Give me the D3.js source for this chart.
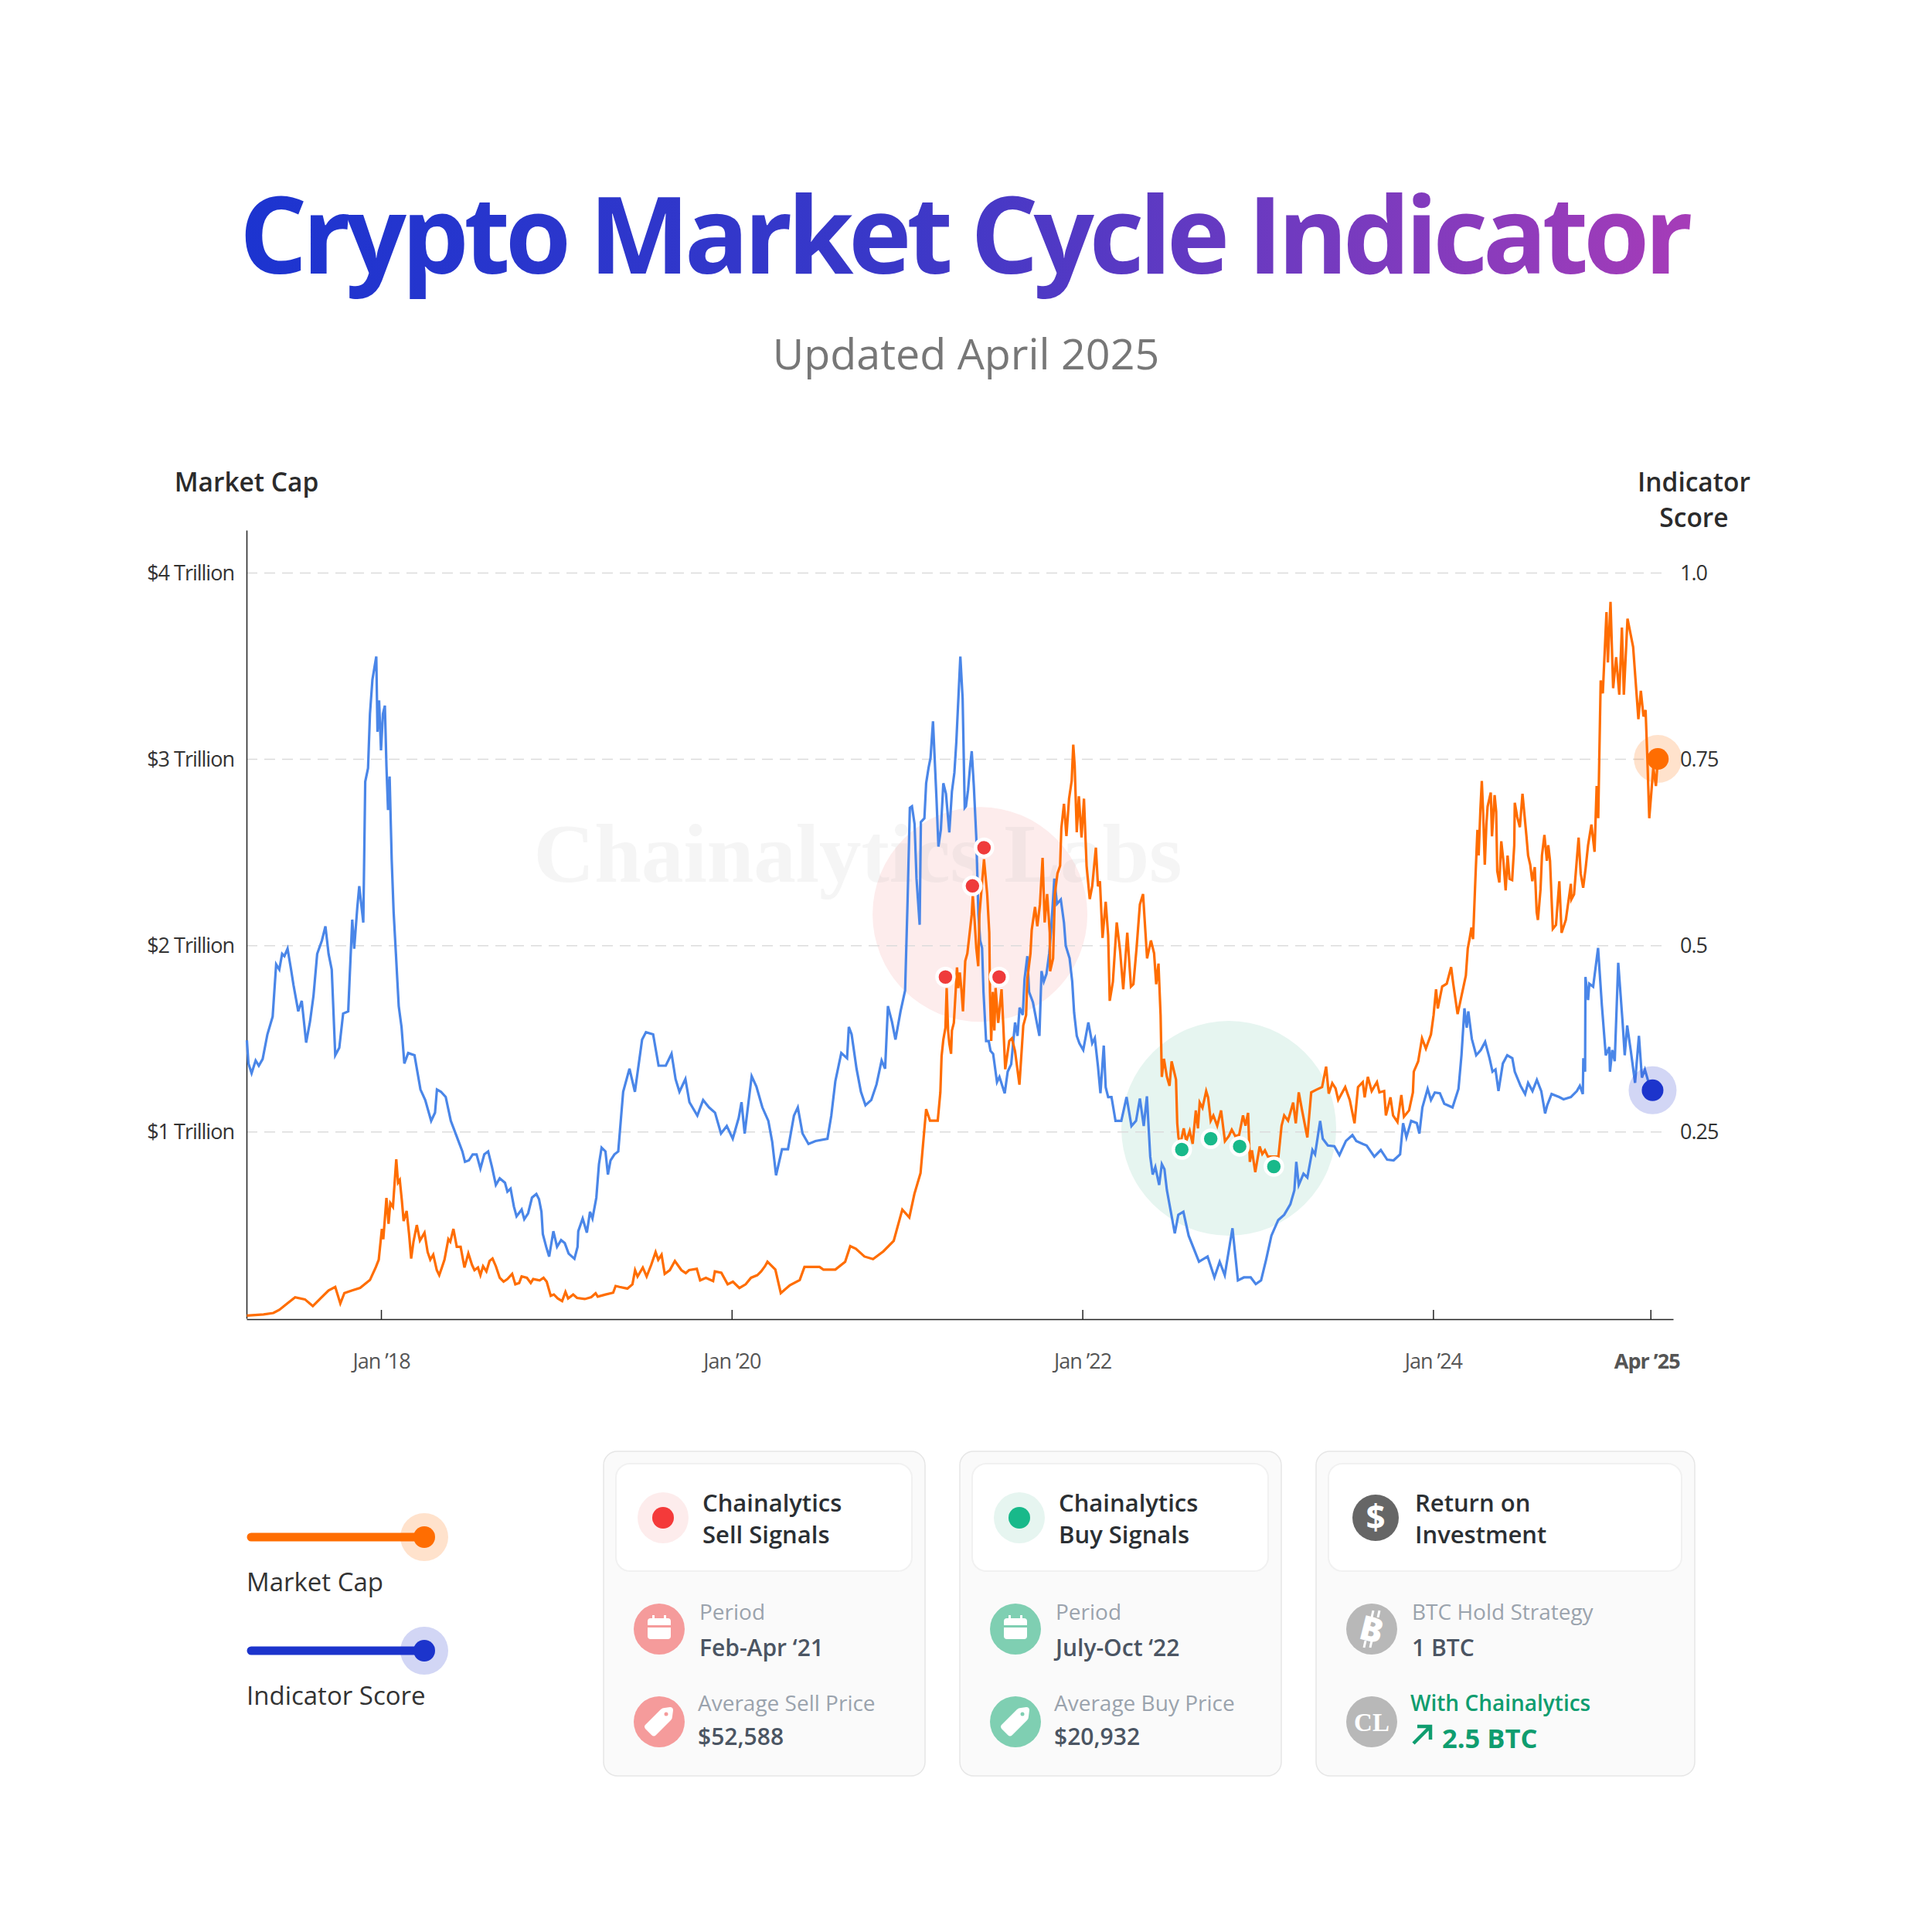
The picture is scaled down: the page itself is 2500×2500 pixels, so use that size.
<!DOCTYPE html>
<html>
<head>
<meta charset="utf-8">
<script src="https://cdn.jsdelivr.net/npm/d3@7"></script>
<style>
  body { margin: 0; background: #fff; }
  text { font-family: "Open Sans", sans-serif; }
</style>
</head>
<body>
<div id="chart"></div>
<script>
// Indicator score, [decimal year, score 0-1]
const indicatorScore = [
[2017.235,.373],[2017.244,.342],[2017.262,.329],[2017.285,.346],[2017.303,.339],[2017.325,.348],[2017.352,.381],[2017.382,.405],[2017.402,.475],[2017.420,.468],
[2017.436,.489],[2017.449,.486],[2017.467,.496],[2017.487,.468],[2017.501,.447],[2017.528,.412],[2017.548,.426],[2017.573,.370],[2017.595,.398],[2017.615,.433],
[2017.636,.489],[2017.663,.507],[2017.683,.526],[2017.701,.489],[2017.719,.468],[2017.739,.353],[2017.762,.363],[2017.784,.409],[2017.813,.412],[2017.822,.461],
[2017.836,.535],[2017.847,.496],[2017.865,.552],[2017.876,.580],[2017.899,.531],[2017.910,.720],[2017.926,.738],[2017.937,.811],[2017.951,.857],[2017.973,.888],
[2017.980,.787],[2017.989,.829],[2018.000,.762],[2018.011,.811],[2018.022,.822],[2018.031,.741],[2018.040,.682],[2018.049,.727],[2018.061,.615],[2018.072,.545],
[2018.085,.489],[2018.101,.419],[2018.117,.391],[2018.133,.342],[2018.155,.356],[2018.191,.353],[2018.225,.307],[2018.252,.293],[2018.286,.265],[2018.308,.276],
[2018.319,.307],[2018.342,.304],[2018.369,.297],[2018.398,.265],[2018.443,.237],[2018.464,.224],[2018.479,.210],[2018.501,.212],[2018.523,.220],[2018.545,.220],
[2018.567,.201],[2018.589,.220],[2018.611,.224],[2018.633,.203],[2018.655,.179],[2018.677,.188],[2018.707,.182],[2018.721,.170],[2018.739,.174],[2018.758,.150],
[2018.773,.137],[2018.802,.146],[2018.817,.133],[2018.839,.141],[2018.861,.162],[2018.886,.167],[2018.901,.160],[2018.915,.143],[2018.923,.113],[2018.942,.096],
[2018.959,.083],[2018.983,.117],[2019.004,.096],[2019.027,.105],[2019.048,.101],[2019.070,.087],[2019.103,.080],[2019.121,.096],[2019.125,.117],[2019.150,.134],
[2019.174,.115],[2019.192,.143],[2019.206,.134],[2019.228,.162],[2019.243,.207],[2019.258,.229],[2019.280,.224],[2019.294,.193],[2019.309,.212],[2019.331,.220],
[2019.353,.224],[2019.381,.304],[2019.417,.335],[2019.448,.304],[2019.489,.374],[2019.511,.384],[2019.552,.381],
[2019.583,.339],[2019.624,.339],[2019.657,.355],[2019.680,.321],[2019.702,.304],[2019.736,.321],[2019.759,.290],[2019.804,.272],[2019.837,.293],[2019.871,.283],
[2019.905,.276],[2019.939,.248],[2019.972,.258],[2020.006,.241],[2020.040,.269],[2020.056,.290],[2020.074,.248],[2020.114,.325],[2020.141,.311],[2020.175,.283],
[2020.209,.265],[2020.231,.237],[2020.253,.192],[2020.287,.227],[2020.321,.227],[2020.355,.272],[2020.377,.283],[2020.404,.248],[2020.438,.234],[2020.478,.238],
[2020.546,.241],[2020.568,.272],[2020.591,.318],[2020.625,.356],[2020.658,.349],[2020.668,.391],[2020.684,.381],[2020.712,.335],[2020.737,.304],[2020.763,.286],
[2020.796,.293],[2020.826,.314],[2020.855,.346],[2020.875,.335],[2020.891,.419],[2020.914,.398],[2020.934,.374],[2020.963,.412],[2020.989,.440],[2021.003,.559],
[2021.016,.685],[2021.028,.687],[2021.043,.663],[2021.054,.590],[2021.072,.528],[2021.079,.666],[2021.099,.671],[2021.109,.718],[2021.123,.739],[2021.134,.752],
[2021.148,.801],[2021.168,.697],[2021.179,.633],[2021.193,.656],[2021.207,.718],[2021.222,.704],[2021.241,.652],[2021.256,.707],[2021.270,.732],[2021.281,.773],
[2021.304,.888],[2021.317,.832],[2021.329,.685],[2021.336,.687],[2021.348,.709],[2021.359,.739],[2021.369,.761],[2021.381,.714],[2021.395,.645],[2021.407,.542],
[2021.417,.507],[2021.428,.497],[2021.436,.438],[2021.451,.372],[2021.466,.372],[2021.476,.359],[2021.491,.355],[2021.513,.317],[2021.527,.324],[2021.557,.302],
[2021.574,.331],[2021.594,.341],[2021.616,.397],[2021.630,.379],[2021.642,.417],[2021.660,.407],[2021.670,.455],[2021.686,.486],[2021.696,.438],[2021.718,.424],
[2021.740,.397],[2021.755,.379],[2021.767,.466],[2021.780,.452],[2021.795,.462],[2021.811,.490],[2021.821,.518],[2021.840,.590],[2021.855,.556],[2021.877,.562],
[2021.895,.531],[2021.905,.500],[2021.927,.483],[2021.942,.452],[2021.953,.410],[2021.968,.379],[2021.983,.369],[2022.005,.360],[2022.034,.397],[2022.056,.369],
[2022.071,.376],[2022.089,.338],[2022.103,.302],[2022.122,.366],[2022.133,.310],[2022.147,.297],[2022.166,.297],[2022.189,.265],[2022.222,.265],[2022.252,.297],
[2022.280,.258],[2022.306,.265],[2022.328,.295],[2022.350,.258],[2022.368,.298],[2022.387,.217],[2022.401,.193],[2022.416,.203],[2022.438,.179],[2022.453,.207],
[2022.468,.200],[2022.482,.172],[2022.527,.114],[2022.547,.139],[2022.576,.143],[2022.606,.111],[2022.665,.076],[2022.714,.083],[2022.753,.055],[2022.783,.076],
[2022.812,.058],[2022.856,.121],[2022.887,.051],[2022.921,.055],[2022.960,.055],[2022.989,.046],[2023.019,.051],[2023.048,.079],[2023.078,.111],[2023.117,.132],
[2023.151,.139],[2023.186,.153],[2023.209,.172],[2023.220,.210],[2023.234,.179],[2023.261,.194],[2023.283,.189],[2023.312,.226],[2023.327,.220],[2023.356,.265],
[2023.371,.241],[2023.400,.232],[2023.437,.231],[2023.466,.219],[2023.503,.238],[2023.540,.246],[2023.562,.238],[2023.599,.234],[2023.621,.232],[2023.665,.217],
[2023.702,.226],[2023.738,.213],[2023.775,.212],[2023.812,.220],[2023.829,.262],[2023.848,.243],[2023.875,.265],[2023.907,.262],[2023.922,.248],[2023.939,.283],
[2023.969,.308],[2023.988,.293],[2024.010,.303],[2024.039,.302],[2024.064,.288],[2024.111,.283],[2024.145,.308],[2024.162,.353],[2024.179,.416],[2024.192,.390],
[2024.201,.412],[2024.221,.375],[2024.246,.353],[2024.272,.360],[2024.297,.371],[2024.322,.349],[2024.339,.331],[2024.356,.334],[2024.373,.305],[2024.398,.342],
[2024.423,.353],[2024.452,.349],[2024.466,.331],[2024.499,.312],[2024.525,.301],[2024.542,.316],[2024.567,.305],[2024.592,.320],[2024.617,.305],[2024.639,.275],
[2024.651,.286],[2024.676,.301],[2024.719,.297],[2024.744,.294],[2024.786,.297],[2024.820,.305],[2024.837,.312],[2024.854,.301],[2024.857,.349],[2024.867,.331],
[2024.869,.458],[2024.884,.427],[2024.891,.449],[2024.913,.445],[2024.941,.497],[2024.963,.419],[2024.985,.353],[2025.005,.364],[2025.009,.331],[2025.022,.360],
[2025.036,.345],[2025.056,.477],[2025.081,.397],[2025.093,.353],[2025.107,.393],[2025.127,.360],[2025.152,.316],[2025.174,.379],[2025.191,.323],[2025.208,.334],
[2025.225,.320],[2025.252,.306]
];

// Market cap, [decimal year, $ billions]
const marketCap = [
[2017.235,15],[2017.330,21],[2017.386,29],[2017.420,46],[2017.465,80],[2017.510,113],[2017.566,102],[2017.611,66],[2017.656,108],[2017.701,150],
[2017.739,169],[2017.768,80],[2017.791,136],[2017.836,150],[2017.881,164],[2017.937,206],[2017.971,276],[2017.987,315],[2018.005,480],[2018.013,425],
[2018.031,646],[2018.043,508],[2018.053,619],[2018.068,598],[2018.087,854],[2018.097,729],[2018.107,743],[2018.119,632],[2018.129,522],[2018.146,577],
[2018.160,453],[2018.172,321],[2018.185,411],[2018.204,501],[2018.222,418],[2018.248,460],[2018.266,356],[2018.281,315],[2018.298,342],[2018.318,259],
[2018.332,232],[2018.347,273],[2018.362,315],[2018.384,425],[2018.395,411],[2018.413,480],[2018.432,384],[2018.454,384],[2018.476,273],[2018.498,349],
[2018.519,287],[2018.533,259],[2018.553,273],[2018.567,232],[2018.582,280],[2018.601,252],[2018.619,308],[2018.636,321],[2018.655,280],[2018.677,218],
[2018.699,197],[2018.721,211],[2018.748,239],[2018.766,183],[2018.788,190],[2018.802,225],[2018.832,218],[2018.854,190],[2018.868,211],[2018.905,204],
[2018.927,218],[2018.945,197],[2018.968,121],[2018.986,128],[2019.008,107],[2019.033,93],[2019.052,142],[2019.067,107],[2019.096,128],[2019.118,110],
[2019.162,104],[2019.199,114],[2019.224,135],[2019.236,117],[2019.280,128],[2019.324,138],[2019.338,174],[2019.360,169],[2019.405,160],[2019.434,183],
[2019.449,259],[2019.463,225],[2019.493,273],[2019.515,225],[2019.541,287],[2019.566,356],[2019.581,315],[2019.600,342],[2019.618,239],[2019.647,259],
[2019.676,308],[2019.713,259],[2019.738,243],[2019.757,259],[2019.801,266],[2019.820,204],[2019.853,218],[2019.894,200],[2019.904,252],[2019.941,245],
[2019.977,183],[2020.007,197],[2020.044,163],[2020.080,183],[2020.110,218],[2020.146,232],[2020.168,252],[2020.190,280],[2020.204,304],[2020.249,262],
[2020.280,136],[2020.332,178],[2020.388,206],[2020.415,276],[2020.501,276],[2020.523,262],
[2020.591,262],[2020.647,304],[2020.676,388],[2020.708,374],[2020.757,332],[2020.806,318],[2020.865,360],[2020.924,416],[2020.973,584],[2021.013,542],
[2021.042,668],[2021.077,780],[2021.109,1123],[2021.131,1061],[2021.175,1061],[2021.190,1213],[2021.197,1407],[2021.207,1496],[2021.219,1559],[2021.226,1773],
[2021.234,1545],[2021.241,1476],[2021.251,1420],[2021.256,1545],[2021.267,1586],[2021.278,1766],[2021.285,1883],[2021.292,1773],[2021.301,1856],[2021.310,1766],
[2021.319,1648],[2021.332,1918],[2021.344,1959],[2021.354,2042],[2021.369,2167],[2021.375,2270],[2021.385,2139],[2021.395,1987],[2021.406,1890],[2021.413,2167],
[2021.425,2305],[2021.439,2464],[2021.457,2277],[2021.469,2070],[2021.473,1752],[2021.480,1489],[2021.489,1752],[2021.498,1545],[2021.505,1773],[2021.520,1586],
[2021.539,1766],[2021.549,1572],[2021.560,1337],[2021.583,1489],[2021.598,1503],[2021.616,1434],[2021.641,1254],[2021.663,1572],[2021.679,1628],[2021.686,1821],
[2021.704,1959],[2021.711,2084],[2021.730,2208],[2021.743,2104],[2021.758,2222],[2021.773,2471],[2021.785,2125],[2021.799,2277],[2021.814,2070],[2021.816,1863],
[2021.833,1932],[2021.843,2277],[2021.858,2388],[2021.873,2429],[2021.880,2630],[2021.895,2761],[2021.909,2588],[2021.924,2789],[2021.939,2885],[2021.948,3079],
[2021.956,2968],[2021.968,2609],[2021.980,2802],[2021.995,2581],[2022.009,2789],[2022.024,2429],[2022.042,2250],[2022.056,2319],[2022.077,2526],[2022.089,2319],
[2022.100,2346],[2022.115,2042],[2022.133,2236],[2022.147,2056],[2022.156,1704],[2022.174,1807],[2022.196,2125],[2022.215,1973],[2022.233,1766],[2022.256,2070],
[2022.277,1780],[2022.291,1793],[2022.309,1987],[2022.328,2222],[2022.346,2277],[2022.357,2111],[2022.369,1932],[2022.391,2028],[2022.409,1959],[2022.421,1793],
[2022.434,1904],[2022.446,1628],[2022.453,1296],[2022.465,1393],[2022.482,1296],[2022.497,1248],[2022.509,1379],[2022.523,1324],[2022.534,1282],[2022.541,1047],
[2022.548,971],[2022.559,937],[2022.578,1020],[2022.592,951],[2022.612,1006],[2022.629,937],[2022.647,1116],[2022.659,1020],[2022.669,1158],[2022.685,1130],
[2022.706,1220],[2022.717,1186],[2022.732,1061],[2022.747,1089],[2022.769,1034],[2022.791,1116],[2022.813,951],[2022.835,978],[2022.852,1013],[2022.872,978],
[2022.894,985],[2022.916,1089],[2022.930,1034],[2022.945,1103],[2022.955,840],[2022.967,902],[2022.986,785],[2023.011,923],[2023.026,882],[2023.041,902],
[2023.058,868],[2023.118,868],[2023.136,1034],[2023.151,1089],[2023.173,1061],[2023.202,1158],[2023.217,1047],[2023.234,1213],[2023.253,1116],[2023.283,971],
[2023.305,1213],[2023.334,1227],[2023.367,1241],[2023.390,1351],[2023.405,1206],[2023.425,1262],[2023.444,1234],[2023.459,1172],[2023.499,1241],[2023.525,1172],
[2023.552,1047],[2023.572,1241],[2023.599,1268],[2023.610,1186],[2023.628,1296],[2023.650,1220],[2023.680,1268],[2023.694,1213],[2023.721,1220],[2023.731,1089],
[2023.757,1186],[2023.772,1089],[2023.797,1054],[2023.819,1199],[2023.834,1082],[2023.863,1116],[2023.885,1213],[2023.890,1324],[2023.915,1379],[2023.937,1503],
[2023.959,1448],[2023.988,1524],[2024.003,1628],[2024.017,1766],[2024.027,1663],[2024.052,1781],[2024.078,1796],[2024.103,1885],[2024.115,1796],[2024.140,1633],
[2024.187,1840],[2024.198,1986],[2024.209,2041],[2024.219,2097],[2024.228,2035],[2024.242,2373],[2024.253,2622],[2024.260,2484],[2024.270,2733],[2024.278,2884],
[2024.286,2705],[2024.295,2435],[2024.304,2650],[2024.311,2746],[2024.329,2822],[2024.336,2587],[2024.351,2808],[2024.360,2719],[2024.366,2401],[2024.378,2339],
[2024.389,2560],[2024.401,2456],[2024.414,2297],[2024.425,2484],[2024.436,2359],[2024.451,2352],[2024.463,2539],[2024.466,2767],[2024.480,2691],[2024.495,2636],
[2024.510,2815],[2024.532,2594],[2024.542,2484],[2024.554,2435],[2024.566,2346],[2024.580,2422],[2024.591,2180],[2024.598,2138],[2024.613,2304],[2024.621,2484],
[2024.635,2594],[2024.649,2456],[2024.657,2539],[2024.667,2456],[2024.683,2090],[2024.701,2111],[2024.720,2346],[2024.733,2069],[2024.757,2138],[2024.786,2332],
[2024.789,2249],[2024.804,2276],[2024.830,2580],[2024.842,2387],[2024.856,2311],[2024.870,2415],[2024.884,2539],[2024.903,2650],[2024.921,2504],[2024.933,2857],
[2024.942,2684],[2024.948,3009],[2024.956,3423],[2024.968,3354],[2024.989,3790],[2024.997,3520],[2025.012,3845],[2025.027,3382],[2025.044,3548],[2025.062,3347],
[2025.077,3707],[2025.088,3347],[2025.109,3755],[2025.141,3603],[2025.171,3216],[2025.185,3368],[2025.200,3230],[2025.212,3265],[2025.222,3009],[2025.233,2684],
[2025.256,2954],[2025.271,2857],[2025.282,3002]
];

const sellSignals = [[2021.219,1832],[2021.373,2321],[2021.439,2526],[2021.525,1832]];
const buySignals = [[2022.567,906],[2022.732,964],[2022.897,923],[2023.092,815]];
const sellZone = [2021.416,2168];
const buyZone = [2022.835,1020];

const capTicks = [1000,2000,3000,4000];
const capTickLabels = ["$1 Trillion","$2 Trillion","$3 Trillion","$4 Trillion"];
const scoreTicks = [0.25,0.5,0.75,1];
const scoreTickLabels = ["0.25","0.5","0.75","1.0"];
const yearTicks = [2018,2020,2022,2024,2025.24];
const yearTickLabels = ["Jan ’18","Jan ’20","Jan ’22","Jan ’24","Apr ’25"];

const cards = [
  {x: 781, w: 416, color: "#f59b9b", dot: "#f43a3a", halo: "#fdecec", head: ["Chainalytics","Sell Signals"],
   rows: [["Period","Feb-Apr ‘21"],["Average Sell Price","$52,588"]]},
  {x: 1242, w: 416, color: "#7fcfb2", dot: "#18b98a", halo: "#e6f5f0", head: ["Chainalytics","Buy Signals"],
   rows: [["Period","July-Oct ‘22"],["Average Buy Price","$20,932"]]},
  {x: 1703, w: 490, color: "#b8b8b8", head: ["Return on","Investment"],
   rows: [["BTC Hold Strategy","1 BTC"],["With Chainalytics","2.5 BTC"]]}
];

const blue = "#4a86e8", orange = "#ff6d01", navy = "#1c34cc";
const width = 2500, height = 2500;
const margins = {top: 686, right: 335, bottom: 794, left: 319};

const svg = d3.select("#chart").append("svg")
    .attr("width", width)
    .attr("height", height)
    .attr("viewBox", [0, 0, width, height]);

const x = d3.scaleLinear()
    .domain([2017.233, 2025.369])
    .range([margins.left, width - margins.right]);
const yCap = d3.scaleLinear()
    .domain([0, 4230])
    .range([1706, margins.top]);
const yScore = d3.scaleLinear()
    .domain([0, 1.0575])
    .range([1706, margins.top]);

/* Title with gradient */
const grad = svg.append("defs").append("linearGradient")
    .attr("id", "titleGrad")
    .attr("gradientUnits", "userSpaceOnUse")
    .attr("x1", 314).attr("x2", 2187).attr("y1", 0).attr("y2", 0);
grad.append("stop").attr("offset", "0").attr("stop-color", "#1c34d0");
grad.append("stop").attr("offset", "0.45").attr("stop-color", "#3a38c8");
grad.append("stop").attr("offset", "1").attr("stop-color", "#a63cb8");

svg.append("text")
    .attr("x", 1247).attr("y", 354)
    .attr("text-anchor", "middle")
    .style("font-size", "138px")
    .style("font-weight", 700)
    .style("letter-spacing", "-6.45px")
    .attr("fill", "url(#titleGrad)")
    .text("Crypto Market Cycle Indicator");

svg.append("text")
    .attr("x", 1250).attr("y", 478)
    .attr("text-anchor", "middle")
    .style("font-size", "55.6px")
    .attr("fill", "#777")
    .text("Updated April 2025");

/* Axis titles */
svg.append("text").attr("x", 319).attr("y", 636).attr("text-anchor", "middle")
    .style("font-size", "33.5px").style("font-weight", 600).attr("fill", "#2b2b2b").text("Market Cap");
svg.selectAll("text.scoreTitle")
    .data(["Indicator", "Score"])
    .join("text")
    .attr("class", "scoreTitle")
    .attr("x", 2192).attr("y", (d, i) => 636 + i * 46).attr("text-anchor", "middle")
    .style("font-size", "33.5px").style("font-weight", 600).attr("fill", "#2b2b2b").text(d => d);

/* Highlight zones and watermark */
svg.append("circle").attr("cx", x(sellZone[0])).attr("cy", yCap(sellZone[1])).attr("r", 139).attr("fill", "#fdecec");
svg.append("circle").attr("cx", x(buyZone[0])).attr("cy", yCap(buyZone[1])).attr("r", 139).attr("fill", "#e6f5f0");

svg.append("text")
    .attr("x", 1110).attr("y", 1141)
    .attr("text-anchor", "middle")
    .style("font-family", "'Liberation Serif', serif")
    .style("font-size", "109px")
    .style("font-weight", 700)
    .attr("fill", "#bbb")
    .attr("opacity", 0.14)
    .text("Chainalytics Labs");

/* Gridlines */
svg.append("g")
    .selectAll("line")
    .data(capTicks)
    .join("line")
    .attr("x1", margins.left)
    .attr("x2", 2158)
    .attr("y1", d => yCap(d))
    .attr("y2", d => yCap(d))
    .attr("stroke", "#dcdcdc")
    .attr("stroke-width", 1.5)
    .attr("stroke-dasharray", "14 9");

/* Axes */
const xGroup = svg.append("g")
    .attr("transform", "translate(0,1707)")
    .call(d3.axisBottom(x)
        .tickValues(yearTicks)
        .tickFormat((d, i) => yearTickLabels[i])
        .tickSize(-12)
        .tickSizeOuter(0)
        .tickPadding(45));
xGroup.select(".domain").attr("stroke", "#222").attr("stroke-width", 1.5);
xGroup.selectAll("line").attr("stroke", "#222").attr("stroke-width", 1.5);
xGroup.selectAll("text")
    .style("font-size", "27px")
    .style("font-family", "'Open Sans', sans-serif")
    .style("letter-spacing", "-1px")
    .attr("fill", "#555");
xGroup.selectAll(".tick:last-of-type text")
    .style("font-weight", 700)
    .attr("dx", -5);

const yGroup = svg.append("g")
    .attr("transform", `translate(${margins.left},0)`)
    .call(d3.axisLeft(yCap)
        .tickValues(capTicks)
        .tickFormat((d, i) => capTickLabels[i])
        .tickSize(0)
        .tickPadding(16));
yGroup.select(".domain").attr("stroke", "#222").attr("stroke-width", 1.5);
yGroup.selectAll("text")
    .style("font-size", "27px")
    .style("font-family", "'Open Sans', sans-serif")
    .style("letter-spacing", "-1px")
    .attr("fill", "#333");

const yRightGroup = svg.append("g")
    .attr("transform", "translate(2158,0)")
    .call(d3.axisRight(yScore)
        .tickValues(scoreTicks)
        .tickFormat((d, i) => scoreTickLabels[i])
        .tickSize(0)
        .tickPadding(16));
yRightGroup.select(".domain").remove();
yRightGroup.selectAll("text")
    .style("font-size", "27px")
    .style("font-family", "'Open Sans', sans-serif")
    .style("letter-spacing", "-1px")
    .attr("fill", "#333");

/* Lines */
svg.append("path")
    .attr("d", d3.line().x(d => x(d[0])).y(d => yScore(d[1]))(indicatorScore))
    .attr("fill", "none")
    .attr("stroke", blue)
    .attr("stroke-width", 3.2);
svg.append("path")
    .attr("d", d3.line().x(d => x(d[0])).y(d => yCap(d[1]))(marketCap))
    .attr("fill", "none")
    .attr("stroke", orange)
    .attr("stroke-width", 3.2);

/* Signal dots */
svg.selectAll("circle.sell")
    .data(sellSignals)
    .join("circle")
    .attr("class", "sell")
    .attr("cx", d => x(d[0])).attr("cy", d => yCap(d[1]))
    .attr("r", 11).attr("fill", "#ef3b3b").attr("stroke", "#fff").attr("stroke-width", 4.5);
svg.selectAll("circle.buy")
    .data(buySignals)
    .join("circle")
    .attr("class", "buy")
    .attr("cx", d => x(d[0])).attr("cy", d => yCap(d[1]))
    .attr("r", 11).attr("fill", "#18b98a").attr("stroke", "#fff").attr("stroke-width", 4.5);

/* End markers */
const lastCap = marketCap[marketCap.length - 1];
const lastScore = indicatorScore[indicatorScore.length - 1];
svg.append("circle").attr("cx", x(lastCap[0])).attr("cy", yCap(lastCap[1])).attr("r", 31).attr("fill", "#ff6d01").attr("opacity", 0.2);
svg.append("circle").attr("cx", x(lastCap[0])).attr("cy", yCap(lastCap[1])).attr("r", 14).attr("fill", orange);
svg.append("circle").attr("cx", x(lastScore[0])).attr("cy", yScore(lastScore[1])).attr("r", 31).attr("fill", navy).attr("opacity", 0.2);
svg.append("circle").attr("cx", x(lastScore[0])).attr("cy", yScore(lastScore[1])).attr("r", 14).attr("fill", navy);

/* Legend */
const legend = svg.selectAll("g.legend")
    .data([["Market Cap", orange, 1989], ["Indicator Score", navy, 2136]])
    .join("g")
    .attr("class", "legend")
    .attr("transform", d => `translate(320,${d[2]})`);
legend.append("line").attr("x1", 5).attr("x2", 229)
    .attr("stroke", d => d[1]).attr("stroke-width", 11).attr("stroke-linecap", "round");
legend.append("circle").attr("cx", 229).attr("r", 31).attr("fill", d => d[1]).attr("opacity", 0.2);
legend.append("circle").attr("cx", 229).attr("r", 14).attr("fill", d => d[1]);
legend.append("text").attr("x", -1).attr("y", 70)
    .style("font-size", "33px").attr("fill", "#333").text(d => d[0]);

/* Cards */
const calendar = (g) => {
    g.append("rect").attr("x", -15).attr("y", -14).attr("width", 30).attr("height", 27).attr("rx", 4).attr("fill", "#fff");
    g.append("rect").attr("x", -15).attr("y", -5).attr("width", 30).attr("height", 3).attr("fill", g.attr("data-bg"));
    g.append("rect").attr("x", -9).attr("y", -18).attr("width", 3).attr("height", 6).attr("fill", "#fff");
    g.append("rect").attr("x", 6).attr("y", -18).attr("width", 3).attr("height", 6).attr("fill", "#fff");
};
const tag = (g) => {
    g.append("path")
        .attr("d", "M-18,4 L2,-16 Q4,-18 7,-18 L14,-19 Q18,-19 18,-15 L17,-7 Q17,-4 15,-2 L-4,17 Q-7,20 -10,17 L-18,9 Q-20,6 -18,4 Z")
        .attr("fill", "#fff");
    g.append("circle").attr("cx", 9).attr("cy", -10).attr("r", 2.5).attr("fill", g.attr("data-bg"));
};

cards.forEach((c, i) => {
    const card = svg.append("g").attr("transform", `translate(${c.x},1878)`);
    card.append("rect").attr("width", c.w).attr("height", 420).attr("rx", 18)
        .attr("fill", "#fafafa").attr("stroke", "#e6e6e6").attr("stroke-width", 1.5);
    card.append("rect").attr("x", 16).attr("y", 16).attr("width", c.w - 33).attr("height", 139).attr("rx", 18)
        .attr("fill", "#fff").attr("stroke", "#f1f1f1").attr("stroke-width", 2);

    if (c.dot) {
        card.append("circle").attr("cx", 77).attr("cy", 86).attr("r", 33).attr("fill", c.halo);
        card.append("circle").attr("cx", 77).attr("cy", 86).attr("r", 14).attr("fill", c.dot);
    } else {
        card.append("circle").attr("cx", 77).attr("cy", 86).attr("r", 30).attr("fill", "#666");
        card.append("text").attr("x", 77).attr("y", 101).attr("text-anchor", "middle")
            .style("font-size", "44px").style("font-weight", 700).attr("fill", "#fff").text("$");
    }
    card.selectAll("text.head").data(c.head).join("text").attr("class", "head")
        .attr("x", 128).attr("y", (d, j) => 78 + j * 41)
        .style("font-size", "31px").style("font-weight", 600).attr("fill", "#2b2f33").text(d => d);

    c.rows.forEach((r, j) => {
        const cy = j == 0 ? 230 : 350;
        const icon = card.append("g").attr("transform", `translate(72,${cy})`).attr("data-bg", c.color);
        icon.append("circle").attr("r", 33).attr("fill", c.color);
        if (i < 2 && j == 0) calendar(icon);
        if (i < 2 && j == 1) tag(icon);
        if (i == 2 && j == 0) {
            icon.append("text").attr("y", 16).attr("text-anchor", "middle").attr("transform", "rotate(14)")
                .style("font-size", "44px").style("font-weight", 800)
                .attr("fill", "#fff").text("B");
            icon.append("g").selectAll("line").data([2, 10]).join("line")
                .attr("x1", d => d).attr("x2", d => d - 2).attr("y1", -24).attr("y2", -15)
                .attr("stroke", "#fff").attr("stroke-width", 3);
            icon.append("g").selectAll("line").data([-8, 0]).join("line")
                .attr("x1", d => d).attr("x2", d => d - 2).attr("y1", 15).attr("y2", 24)
                .attr("stroke", "#fff").attr("stroke-width", 3);
        }
        if (i == 2 && j == 1) {
            icon.append("text").attr("y", 12).attr("text-anchor", "middle")
                .style("font-family", "'Liberation Serif', serif").style("font-size", "33px").style("font-weight", 700)
                .attr("fill", "#fff").text("CL");
        }
        const green = i == 2 && j == 1;
        card.append("text").attr("x", j == 0 ? 124 : 122).attr("y", j == 0 ? 218 : 336)
            .style("font-size", "28px").style("font-weight", green ? 600 : 400)
            .attr("fill", green ? "#0f9d6f" : "#9aa3ad").text(r[0]);
        if (green) {
            card.append("path").attr("d", "M126,378 L147,357 M131,356 L148,356 L148,373")
                .attr("fill", "none").attr("stroke", "#0f9d6f").attr("stroke-width", 4.5);
            card.append("text").attr("x", 163).attr("y", 384)
                .style("font-size", "34.5px").style("font-weight", 700).attr("fill", "#0f9d6f").text(r[1]);
        } else {
            card.append("text").attr("x", j == 0 ? 124 : 122).attr("y", j == 0 ? 265 : 380)
                .style("font-size", "30px").style("font-weight", 600).attr("fill", "#4b5563").text(r[1]);
        }
    });
});
</script>
</body>
</html>
